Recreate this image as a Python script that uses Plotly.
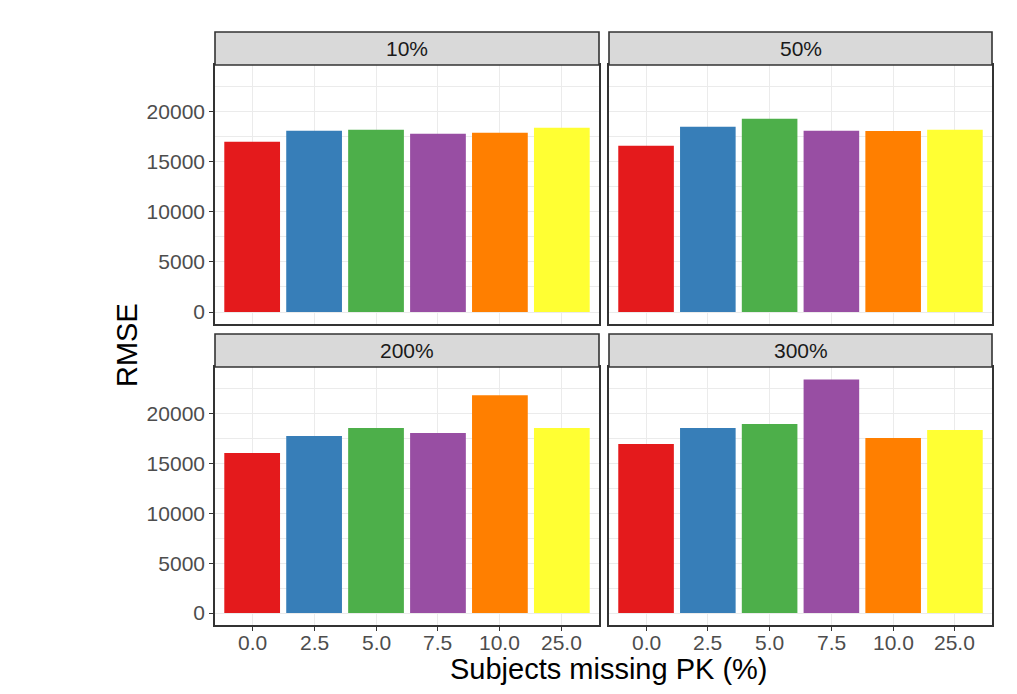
import plotly.graph_objects as go

# Bar categories (percent of subjects missing PK) and panel labels
categories = ["0.0", "2.5", "5.0", "7.5", "10.0", "25.0"]
panels = ["10%", "50%", "200%", "300%"]

# RMSE per panel, one value per category
rmse_10 = [17000, 18100, 18200, 17800, 17900, 18400]
rmse_50 = [16600, 18500, 19300, 18100, 18080, 18200]
rmse_200 = [16050, 17740, 18540, 18040, 21830, 18540]
rmse_300 = [16940, 18540, 18940, 23420, 17540, 18340]
panel_values = [rmse_10, rmse_50, rmse_200, rmse_300]

# Brewer Set1 fill per category
bar_colors = ["#E41A1C", "#377EB8", "#4DAF4A", "#984EA3", "#FF7F00", "#FFFF33"]

W, H = 1017, 694
# panel boxes in pixels: (left, right, top, bottom)
col_px = [(215, 599), (609, 992)]
row_px = [(65, 324), (367, 625)]
strip_h = 33
y_range = [-1198, 24663]

FONT = "Liberation Sans, Arial, sans-serif"
TICK_SIZE = 21
TITLE_SIZE = 29

fig = go.Figure()
layout = dict(
    width=W, height=H,
    margin=dict(l=0, r=0, t=0, b=0),
    paper_bgcolor="white", plot_bgcolor="white",
    showlegend=False,
    bargap=0.1,
    font=dict(family=FONT, size=TICK_SIZE, color="#4D4D4D"),
)

shapes = []
annotations = []

for i, (label, vals) in enumerate(zip(panels, panel_values)):
    r, c = divmod(i, 2)
    n = i + 1
    xa = "x" if n == 1 else f"x{n}"
    ya = "y" if n == 1 else f"y{n}"
    fig.add_trace(go.Bar(
        x=categories, y=vals, marker=dict(color=bar_colors, line=dict(width=0)),
        xaxis=xa, yaxis=ya, hoverinfo="x+y",
    ))
    l, rt = col_px[c]
    t, b = row_px[r]
    xdom = [l / W, rt / W]
    ydom = [1 - b / H, 1 - t / H]
    xkey = "xaxis" if n == 1 else f"xaxis{n}"
    ykey = "yaxis" if n == 1 else f"yaxis{n}"
    layout[xkey] = dict(
        domain=xdom, anchor=ya, type="category",
        categoryorder="array", categoryarray=categories,
        range=[-0.6, 5.6],
        showgrid=True, gridcolor="#EBEBEB", gridwidth=1.1,
        showline=True, mirror=True, linecolor="#333333", linewidth=1.6,
        ticks="outside" if r == 1 else "", ticklen=4, tickwidth=1.1, tickcolor="#333333",
        showticklabels=False,
        zeroline=False, fixedrange=True,
    )
    layout[ykey] = dict(
        domain=ydom, anchor=xa, range=y_range,
        tickmode="array", tickvals=[0, 5000, 10000, 15000, 20000],
        ticktext=["0", "5000", "10000", "15000", "20000"],
        showgrid=True, gridcolor="#EBEBEB", gridwidth=1.1,
        minor=dict(tickmode="array", tickvals=[2500, 7500, 12500, 17500, 22500],
                   showgrid=True, gridcolor="#EBEBEB", gridwidth=0.55, ticks=""),
        showline=True, mirror=True, linecolor="#333333", linewidth=1.6,
        ticks="outside" if c == 0 else "", ticklen=4, tickwidth=1.1, tickcolor="#333333",
        showticklabels=(c == 0),
        tickfont=dict(size=TICK_SIZE, color="#4D4D4D", family=FONT),
        zeroline=False, fixedrange=True,
    )
    # x tick labels for the bottom row, placed at each category's index on the axis
    if r == 1:
        for k, cat in enumerate(categories):
            annotations.append(dict(
                text=cat, xref=xa, yref="paper", x=k, y=1 - 642 / H,
                xanchor="center", yanchor="middle", showarrow=False,
                font=dict(size=TICK_SIZE, color="#4D4D4D", family=FONT),
            ))
    # facet strip
    shapes.append(dict(
        type="rect", xref="paper", yref="paper",
        x0=l / W, x1=rt / W, y0=1 - t / H, y1=1 - (t - strip_h) / H,
        fillcolor="#D9D9D9", line=dict(color="#333333", width=1.6), layer="above",
    ))
    annotations.append(dict(
        text=label, xref="paper", yref="paper",
        x=(l + rt) / 2 / W, y=1 - (t - strip_h / 2) / H,
        xanchor="center", yanchor="middle", showarrow=False,
        font=dict(size=TICK_SIZE, color="#1A1A1A", family=FONT),
    ))

annotations.append(dict(
    text="Subjects missing PK (%)", xref="paper", yref="paper",
    x=609 / W, y=1 - 669 / H,
    xanchor="center", yanchor="middle", showarrow=False,
    font=dict(size=TITLE_SIZE, color="black", family=FONT),
))
annotations.append(dict(
    text="RMSE", xref="paper", yref="paper",
    x=127 / W, y=1 - ((row_px[0][0] + row_px[1][1]) / 2) / H,
    xanchor="center", yanchor="middle", showarrow=False, textangle=-90,
    font=dict(size=TITLE_SIZE, color="black", family=FONT),
))

layout["shapes"] = shapes
layout["annotations"] = annotations
fig.update_layout(**layout)
fig.write_html("out.html")
